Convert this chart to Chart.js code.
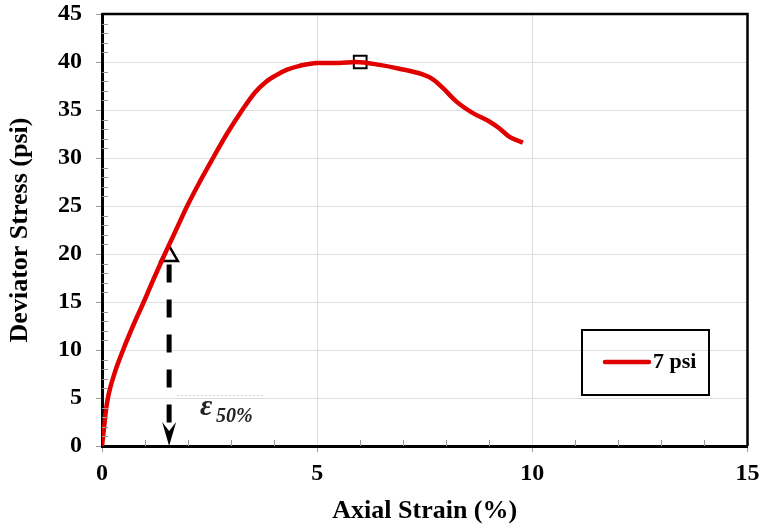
<!DOCTYPE html>
<html>
<head>
<meta charset="utf-8">
<script src="https://cdn.jsdelivr.net/npm/chart.js@4/dist/chart.umd.min.js"></script>
<style>
  html, body { margin: 0; padding: 0; background: #fff; }
  #wrap { width: 760px; height: 527px; }
</style>
</head>
<body>
<div id="wrap"><canvas id="chart" width="760" height="527"></canvas></div>
<script>
// 数据
const strain = [0, 0.05, 0.1, 0.16, 0.3, 0.49, 0.72, 0.97, 1.21, 1.46, 1.72, 1.98, 2.27, 2.58, 2.9, 3.26, 3.55, 3.8, 4.0, 4.3, 4.59, 5.0, 5.5, 5.9, 6.45, 6.91, 7.45, 7.69, 7.92, 8.23, 8.61, 9.0, 9.23, 9.47, 9.78];
const stress = [0, 2, 4, 5.5, 7.7, 10, 12.5, 15, 17.5, 20, 22.5, 25, 27.5, 30, 32.5, 35, 36.8, 37.9, 38.5, 39.2, 39.6, 39.9, 39.9, 40, 39.7, 39.3, 38.7, 38.2, 37.3, 35.9, 34.7, 33.8, 33.1, 32.2, 31.6];
const peakPoint = [6.0, 40];
const halfPoint = [1.56, 19.8];
const arrowEnd = [1.56, 2.4];
const seriesName = '7 psi';
const xTicks = [0, 5, 10, 15];
const yTicks = [0, 5, 10, 15, 20, 25, 30, 35, 40, 45];

const FONT = "'Liberation Serif', 'Times New Roman', serif";
const RED = '#e00000';

// 去掉刻度标签造成的额外边距
function noPad(s) {
    s.paddingTop = 0;
    s.paddingBottom = 0;
    s.paddingLeft = 0;
    s.paddingRight = 0;
}

// 次刻度、边框、图例和标注
const decorPlugin = {
    id: 'decor',
    afterDatasetsDraw(chart) {
        const { ctx, chartArea: a, scales: { x, y } } = chart;
        ctx.save();

        // 次刻度（向内）
        ctx.strokeStyle = '#999';
        ctx.lineWidth = 1;
        for (let v = 1; v < 45; v++) {
            if (v % 5 === 0) continue;
            const py = Math.round(y.getPixelForValue(v)) + 0.5;
            ctx.beginPath();
            ctx.moveTo(a.left, py);
            ctx.lineTo(a.left + 6, py);
            ctx.stroke();
        }
        for (let v = 1; v < 15; v++) {
            if (v % 5 === 0) continue;
            const px = Math.round(x.getPixelForValue(v)) + 0.5;
            ctx.beginPath();
            ctx.moveTo(px, a.bottom);
            ctx.lineTo(px, a.bottom - 6);
            ctx.stroke();
        }

        // 上、右边框
        ctx.strokeStyle = '#000';
        ctx.lineWidth = 2.5;
        ctx.beginPath();
        ctx.moveTo(a.left, a.top);
        ctx.lineTo(a.right, a.top);
        ctx.lineTo(a.right, a.bottom);
        ctx.stroke();

        // 箭头
        const ax = x.getPixelForValue(arrowEnd[0]);
        const tipY = y.getPixelForValue(0);
        ctx.fillStyle = '#000';
        ctx.beginPath();
        ctx.moveTo(ax, tipY);
        ctx.lineTo(ax - 7, tipY - 24);
        ctx.lineTo(ax, tipY - 15);
        ctx.lineTo(ax + 7, tipY - 24);
        ctx.closePath();
        ctx.fill();

        // ε50% 标签
        ctx.strokeStyle = '#ccc';
        ctx.lineWidth = 1;
        ctx.setLineDash([2, 2]);
        ctx.beginPath();
        ctx.moveTo(177, 395.5);
        ctx.lineTo(264, 395.5);
        ctx.stroke();
        ctx.setLineDash([]);
        ctx.fillStyle = '#222';
        ctx.textBaseline = 'alphabetic';
        ctx.textAlign = 'left';
        ctx.font = 'italic bold 30px ' + FONT;
        ctx.fillText('ε', 200, 415);
        ctx.font = 'italic bold 20px ' + FONT;
        ctx.fillText('50%', 216, 422);

        // 图例
        ctx.strokeStyle = '#000';
        ctx.lineWidth = 2;
        ctx.strokeRect(582, 330, 127, 65);
        ctx.strokeStyle = RED;
        ctx.lineWidth = 4.5;
        ctx.lineCap = 'round';
        ctx.beginPath();
        ctx.moveTo(605, 362);
        ctx.lineTo(649, 362);
        ctx.stroke();
        ctx.fillStyle = '#000';
        ctx.font = 'bold 22px ' + FONT;
        ctx.textBaseline = 'middle';
        ctx.fillText(seriesName, 653, 362);

        ctx.restore();
    }
};

const ctx = document.getElementById('chart').getContext('2d');
const chart = new Chart(ctx, {
    type: 'scatter',
    data: {
        datasets: [
            {
                label: seriesName,
                data: strain.map((v, i) => ({ x: v, y: stress[i] })),
                showLine: true,
                borderColor: RED,
                borderWidth: 4.5,
                pointRadius: 0,
                cubicInterpolationMode: 'monotone'
            },
            {
                label: 'arrow',
                data: [{ x: halfPoint[0], y: halfPoint[1] - 0.9 }, { x: arrowEnd[0], y: arrowEnd[1] }],
                showLine: true,
                borderColor: '#000',
                borderWidth: 5,
                borderDash: [18, 17],
                borderCapStyle: 'butt',
                pointRadius: 0
            },
            {
                label: 'half',
                data: [{ x: halfPoint[0], y: halfPoint[1] }],
                pointStyle: 'triangle',
                pointRadius: 10,
                pointBorderWidth: 2.5,
                pointBorderColor: '#000',
                pointBackgroundColor: 'rgba(0,0,0,0)'
            },
            {
                label: 'peak',
                data: [{ x: peakPoint[0], y: peakPoint[1] }],
                pointStyle: 'rect',
                pointRadius: 9,
                pointBorderWidth: 2,
                pointBorderColor: '#000',
                pointBackgroundColor: 'rgba(0,0,0,0)'
            }
        ]
    },
    options: {
        responsive: false,
        animation: false,
        layout: { padding: { left: 0, top: 14, right: 12, bottom: 0 } },
        plugins: {
            legend: { display: false },
            tooltip: { enabled: false }
        },
        scales: {
            x: {
                type: 'linear',
                min: 0,
                max: 15,
                afterFit: (s) => { s.height = 81; noPad(s); },
                afterBuildTicks: (s) => { s.ticks = xTicks.map(v => ({ value: v })); },
                ticks: {
                    color: '#000',
                    font: { family: FONT, size: 24, weight: 'bold' },
                    padding: 7,
                    maxRotation: 0
                },
                grid: { color: '#ddd', lineWidth: 1, tickLength: 6, tickColor: '#999' },
                border: { color: '#000', width: 3 },
                title: {
                    display: true,
                    text: 'Axial Strain (%)',
                    color: '#000',
                    font: { family: FONT, size: 26, weight: 'bold' },
                    padding: { top: 0, bottom: 0 }
                }
            },
            y: {
                type: 'linear',
                min: 0,
                max: 45,
                afterFit: (s) => { s.width = 102; noPad(s); },
                afterBuildTicks: (s) => { s.ticks = yTicks.map(v => ({ value: v })); },
                ticks: {
                    color: '#000',
                    font: { family: FONT, size: 24, weight: 'bold' },
                    padding: 14
                },
                grid: { color: '#ddd', lineWidth: 1, tickLength: 6, tickColor: '#999' },
                border: { color: '#000', width: 3 },
                title: {
                    display: true,
                    text: 'Deviator Stress (psi)',
                    color: '#000',
                    font: { family: FONT, size: 26, weight: 'bold' },
                    padding: { top: 5, bottom: 0 }
                }
            }
        }
    },
    plugins: [decorPlugin]
});
</script>
</body>
</html>
